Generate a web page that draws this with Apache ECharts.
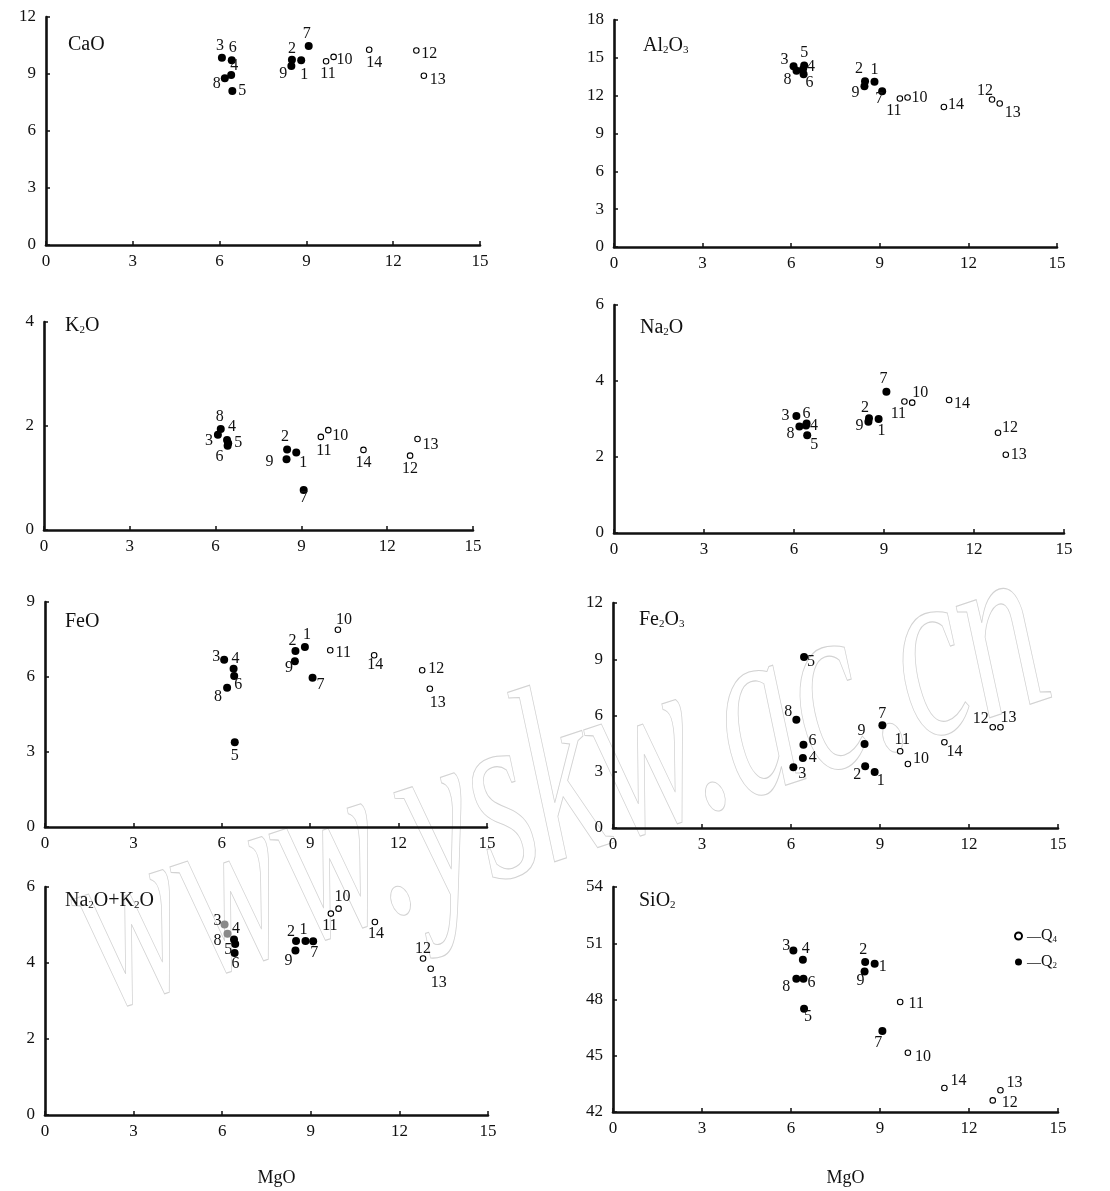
<!DOCTYPE html>
<html><head><meta charset="utf-8">
<script src="https://cdn.jsdelivr.net/npm/echarts@6/dist/echarts.min.js"></script>
<style>html,body{margin:0;padding:0;background:#fff}#c{width:1110px;height:1191px}</style>
</head><body><div id="c"></div>
<script>
// ---------- data ----------
const sampleNo = ['1','2','3','4','5','6','7','8','9','10','11','12','13','14'];
const mgo   = [8.82, 8.50, 6.08, 6.40, 6.44, 6.42, 9.08, 6.18, 8.48, 9.94, 9.68, 12.80, 13.06, 11.17];
const cao   = [9.72, 9.75, 9.86, 8.95, 8.11, 9.72, 10.47, 8.78, 9.42, 9.90, 9.67, 10.24, 8.91, 10.28];
const al2o3 = [13.10, 13.15, 14.34, 14.10, 14.40, 13.70, 12.35, 13.97, 12.75, 11.85, 11.77, 11.70, 11.38, 11.10];
const k2o   = [1.49, 1.55, 1.83, 1.73, 1.67, 1.62, 0.77, 1.94, 1.36, 1.92, 1.79, 1.43, 1.75, 1.54];
const na2o  = [3.00, 3.02, 3.08, 2.83, 2.57, 2.88, 3.72, 2.80, 2.93, 3.43, 3.46, 2.64, 2.06, 3.50];
const feo   = [7.20, 7.04, 6.69, 6.33, 3.39, 6.04, 5.97, 5.57, 6.63, 7.89, 7.07, 6.27, 5.53, 6.87];
const fe2o3 = [2.99, 3.29, 3.24, 3.73, 9.12, 4.44, 5.48, 5.78, 4.48, 3.41, 4.09, 5.37, 5.37, 4.57];
const alk   = [4.58, 4.58, 5.01, 4.62, 4.50, 4.26, 4.57, 4.77, 4.33, 5.43, 5.30, 4.12, 3.85, 5.08];
const sio2  = [49.91, 50.00, 50.62, 50.12, 47.51, 49.11, 46.32, 49.11, 49.50, 45.16, 47.87, 42.62, 43.16, 43.28];
const groupQ2 = [0,1,2,3,4,5,6,7,8];      // filled circles
const groupQ4 = [9,10,11,12,13];          // open circles
const yData = [cao, al2o3, k2o, na2o, feo, fe2o3, alk, sio2];
const yMin  = [0, 0, 0, 0, 0, 0, 0, 42];
const yMax  = [12, 18, 4, 6, 9, 12, 6, 54];
const yStep = [3, 3, 2, 2, 3, 3, 2, 3];
const xMin = 0, xMax = 15, xStep = 3;
const xName = 'MgO';
// panel titles as [text, isSubscript] fragments
const titles = [
  [['CaO',0]],
  [['Al',0],['2',1],['O',0],['3',1]],
  [['K',0],['2',1],['O',0]],
  [['Na',0],['2',1],['O',0]],
  [['FeO',0]],
  [['Fe',0],['2',1],['O',0],['3',1]],
  [['Na',0],['2',1],['O+K',0],['2',1],['O',0]],
  [['SiO',0],['2',1]]
];

// ---------- layout / style ----------
const grids = [
  {left:46,  top:17,  width:434, height:228},
  {left:614, top:20,  width:443, height:227},
  {left:44,  top:322, width:429, height:208},
  {left:614, top:305, width:450, height:228},
  {left:45,  top:602, width:442, height:225},
  {left:613, top:603, width:445, height:225},
  {left:45,  top:887, width:443, height:228},
  {left:613, top:887, width:445, height:225}
];
const titlePos = [[68,47],[643,48],[65,328],[640,330],[65,624],[639,622],[65,903],[639,903]];
const offs = [
 [[3,14],[0,-11],[-2,-12],[3,-9],[10,0],[1,-13],[-2,-12],[-8,6],[-8,8],[11,3],[2,13],[13,3],[14,4],[5,13]],
 [[0,-12],[-6,-12],[-9,-6],[8,-2],[0,-13],[6,9],[-3,8],[-9,9],[-9,7],[12,0],[-6,12],[-7,-9],[13,9],[12,-2]],
 [[7,10],[-2,-13],[-9,6],[5,-13],[10,0],[-8,11],[0,8],[-1,-12],[-17,3],[12,6],[3,14],[0,13],[13,6],[0,13]],
 [[3,12],[-4,-10],[-11,0],[8,0],[7,9],[0,-10],[-3,-13],[-9,7],[-9,4],[8,-10],[-6,12],[12,-5],[13,0],[13,4]],
 [[2,-12],[-3,-10],[-8,-3],[2,-10],[0,14],[4,9],[8,7],[-9,9],[-6,7],[6,-10],[13,3],[14,-1],[8,14],[1,10]],
 [[6,9],[-8,8],[9,7],[10,0],[7,5],[9,-4],[0,-11],[-8,-8],[-3,-13],[13,-5],[2,-12],[-12,-9],[8,-10],[10,9]],
 [[-2,-11],[-5,-9],[-7,-4],[2,-11],[-7,6],[1,11],[1,11],[-10,7],[-7,10],[4,-12],[-1,12],[0,-10],[8,14],[1,12]],
 [[8,3],[-2,-12],[-7,-5],[3,-11],[4,8],[8,4],[-4,12],[-10,8],[-4,9],[15,4],[16,2],[17,2],[14,-7],[14,-7]]
];
const grayPts = {6: [2, 7]};
const FONT = '"Liberation Serif", "DejaVu Serif", serif';
const INK = '#111';

const chart = echarts.init(document.getElementById('c'), null, {renderer:'canvas'});

const xAxes = [], yAxes = [], series = [], graphics = [];
const axisCommon = {
  axisLine: {show:true, onZero:false, lineStyle:{color:INK, width:2.6}},
  axisTick: {show:true, inside:true, length:4, lineStyle:{color:INK, width:1.5}},
  splitLine: {show:false},
  axisLabel: {color:INK, fontFamily:FONT, fontSize:17}
};
grids.forEach((g, p) => {
  xAxes.push(Object.assign({}, axisCommon, {
    type:'value', gridIndex:p, min:xMin, max:xMax, interval:xStep,
    axisLabel: Object.assign({}, axisCommon.axisLabel, {margin:8}),
    name: p >= 6 ? xName : '', nameLocation:'middle', nameGap: p === 6 ? 54 : 57,
    nameTextStyle: {color:INK, fontFamily:FONT, fontSize:18, padding:[0,0,0,20]}
  }));
  yAxes.push(Object.assign({}, axisCommon, {
    type:'value', gridIndex:p, min:yMin[p], max:yMax[p], interval:yStep[p],
    axisLabel: Object.assign({}, axisCommon.axisLabel, {margin:10})
  }));
  const mk = (i) => {
    const d = {name: sampleNo[i], value:[mgo[i], yData[p][i]], label:{offset: offs[p][i]}};
    if (grayPts[p] && grayPts[p].includes(i)) d.itemStyle = {color:'#8a8a8a'};
    return d;
  };
  const lbl = {show:true, position:'inside', formatter:'{b}', color:INK, fontFamily:FONT, fontSize:16};
  series.push({
    name:'Q4', type:'scatter', xAxisIndex:p, yAxisIndex:p, symbol:'circle', symbolSize:5.5,
    itemStyle:{color:'#fff', borderColor:'#000', borderWidth:1.1, opacity:1},
    label:lbl, emphasis:{disabled:true}, data: groupQ4.map(mk), z:3
  });
  series.push({
    name:'Q2', type:'scatter', xAxisIndex:p, yAxisIndex:p, symbol:'circle', symbolSize:8,
    itemStyle:{color:'#000', opacity:1},
    label:lbl, emphasis:{disabled:true}, data: groupQ2.map(mk), z:3
  });
  // panel title with subscripts
  graphics.push({
    type:'text', left: titlePos[p][0], top: titlePos[p][1] - 12, silent:true,
    style:{
      text: titles[p].map(f => (f[1] ? '{s|' : '{m|') + f[0] + '}').join(''),
      rich:{
        m:{fontFamily:FONT, fontSize:20, lineHeight:23, verticalAlign:'bottom', fill:INK},
        s:{fontFamily:FONT, fontSize:11, lineHeight:11, verticalAlign:'bottom', fill:INK}
      }
    }
  });
});
// site watermark (outlined)
graphics.push({
  type:'text', x:560, y:790, rotation:0.32, scaleX:0.68, scaleY:1.1, silent:true, z:-1,
  style:{text:'www.yskw.ac.cn', font:'italic 230px "Liberation Serif"', fill:'none',
         stroke:'#d2d2d2', lineWidth:1, align:'center', verticalAlign:'middle',
         textAlign:'center', textVerticalAlign:'middle'}
});

chart.setOption({
  animation:false,
  backgroundColor:'#fff',
  grid: grids.map(g => Object.assign({containLabel:false}, g)),
  xAxis: xAxes, yAxis: yAxes, series: series,
  legend: {
    data:['Q4','Q2'], orient:'vertical', left:1009, top:923, itemWidth:7, itemHeight:7, itemGap:10,
    selectedMode:false,
    formatter: n => '{d|—}{m|Q}{s|' + n.slice(1) + '}',
    textStyle:{color:INK, rich:{
      d:{fontFamily:FONT, fontSize:14, lineHeight:16, verticalAlign:'bottom'},
      m:{fontFamily:FONT, fontSize:16, lineHeight:16, verticalAlign:'bottom'},
      s:{fontFamily:FONT, fontSize:9, lineHeight:9, verticalAlign:'bottom'}
    }}
  },
  graphic: graphics
});
</script></body></html>
